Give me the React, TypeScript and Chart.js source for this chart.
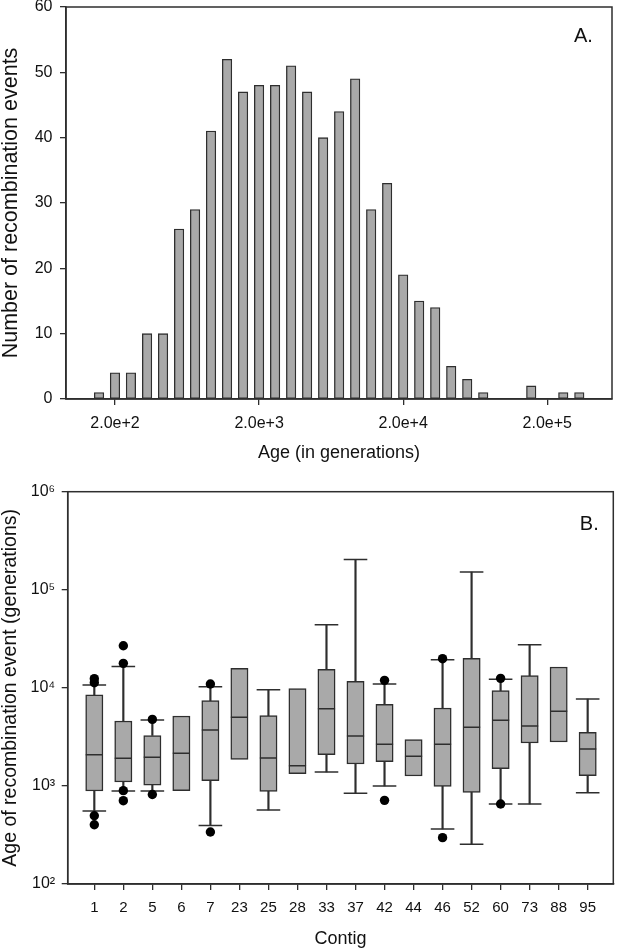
import React, { useEffect, useRef } from 'react';
import { Chart, registerables } from 'chart.js';

Chart.register(...registerables);
Chart.defaults.font.family = "'Liberation Sans', Arial, Helvetica, sans-serif";
Chart.defaults.color = '#111';

// ---------- Panel A data ----------
const binAges = [155, 200, 258, 334, 431, 557, 719, 928, 1199, 1548, 2000, 2583, 3337, 4309, 5566, 7188, 9284, 11990, 15480, 20000, 25830, 33370, 43090, 55660, 71880, 92840, 119900, 154800, 200000, 258300, 333700];
const eventCounts = [1, 4, 4, 10, 10, 26, 29, 41, 52, 47, 48, 48, 51, 47, 40, 44, 49, 29, 33, 19, 15, 14, 5, 3, 1, 0, 0, 2, 0, 1, 1];
const ageTickValues = [200, 2000, 20000, 200000];
const ageTickLabels = ['2.0e+2', '2.0e+3', '2.0e+4', '2.0e+5'];

// ---------- Panel B data ----------
const contigs = ['1', '2', '5', '6', '7', '23', '25', '28', '33', '37', '42', '44', '46', '52', '60', '73', '88', '95'];
const q1Ages = [887, 1096, 1016, 895, 1131, 1866, 881, 1333, 2083, 1673, 1767, 1262, 990, 860, 1499, 2738, 2803, 1272];
const medianAges = [2083, 1911, 1962, 2149, 3716, 5003, 1925, 1609, 6133, 3228, 2654, 2002, 2654, 3956, 4664, 4081, 5760, 2379];
const q3Ages = [8500, 4590, 3270, 5160, 7400, 15800, 5200, 9810, 15440, 11650, 6790, 2960, 6230, 19980, 9360, 13300, 16310, 3520];
const lowerWhisker = [555, 888, 889, null, 396, null, 568, null, 1387, 840, 998, null, 364, 254, 654, 654, null, 854];
const upperWhisker = [10690, 16500, 4700, null, 10280, null, 9580, null, 44060, 204000, 10940, null, 19370, 151700, 12210, 27550, null, 7690];
const outlierAges = [[12400, 11290, 497, 402], [26900, 17770, 895, 707], [4770, 817], [], [10940, 339], [], [], [], [], [], [11930, 713], [], [19830, 297], [], [12500, 654], [], [], []];
const logTickValues = [100, 1000, 10000, 100000, 1000000];
const logTickLabels = ['10²', '10³', '10⁴', '10⁵', '10⁶'];

const LINE = '#2e2e2e';
const FILL = '#a9a9a9';

const framePlugin = {
  id: 'frame',
  afterDraw(chart: any) {
    const { ctx, chartArea } = chart;
    const { left, top, right, bottom } = chartArea;
    ctx.save();
    ctx.strokeStyle = LINE;
    ctx.lineWidth = 1.5;
    ctx.strokeRect(left, top, right - left, bottom - top);
    ctx.restore();
  },
};

function panelLabel(text: string, dx: number, dy: number, size: number) {
  return {
    id: 'panelLabel' + text,
    afterDraw(chart: any) {
      const { ctx, chartArea } = chart;
      ctx.save();
      ctx.font = `${size}px 'Liberation Sans', Arial, sans-serif`;
      ctx.fillStyle = '#111';
      ctx.textBaseline = 'alphabetic';
      ctx.textAlign = 'left';
      ctx.fillText(text, chartArea.right + dx, chartArea.top + dy);
      ctx.restore();
    },
  };
}

function topConfig(): any {
  return {
    type: 'bar',
    data: {
      datasets: [
        {
          data: binAges.map((a, i) => ({ x: a, y: eventCounts[i] })),
          backgroundColor: FILL,
          borderColor: LINE,
          borderWidth: 1.3,
          borderSkipped: false,
          barThickness: 9.5,
        },
      ],
    },
    options: {
      animation: false,
      responsive: false,
      events: [],
      layout: { autoPadding: false, padding: { left: 0, right: 5, top: 7, bottom: 0 } },
      plugins: { legend: { display: false }, tooltip: { enabled: false } },
      scales: {
        x: {
          type: 'logarithmic',
          min: 91.4,
          max: 562800,
          offset: false,
          grid: { display: true, drawOnChartArea: false, offset: false, tickLength: 6, color: LINE, lineWidth: 1.3 },
          border: { display: true, color: LINE, width: 1.5 },
          ticks: {
            autoSkip: false,
            maxRotation: 0,
            padding: 9,
            color: '#111',
            font: { size: 16 },
            callback: (_v: any, i: number) => ageTickLabels[i],
          },
          afterBuildTicks: (s: any) => {
            s.ticks = ageTickValues.map((v) => ({ value: v }));
          },
          afterFit: (s: any) => {
            s.height = 71;
            s.paddingLeft = 0;
            s.paddingRight = 0;
          },
          title: {
            display: true,
            text: 'Age (in generations)',
            color: '#111',
            font: { size: 18, lineHeight: 1.2 },
            padding: { top: 0, bottom: 6 },
          },
        },
        y: {
          type: 'linear',
          min: 0,
          max: 60,
          grid: { display: true, drawOnChartArea: false, tickLength: 6, color: LINE, lineWidth: 1.3 },
          border: { display: true, color: LINE, width: 1.5 },
          ticks: { stepSize: 10, padding: 7.5, color: '#111', font: { size: 16 } },
          afterFit: (s: any) => {
            s.width = 66;
            s.paddingTop = 0;
            s.paddingBottom = 0;
          },
          title: {
            display: true,
            text: 'Number of recombination events',
            color: '#111',
            font: { size: 21.5, lineHeight: 1 },
            padding: { top: 0, bottom: 0 },
          },
        },
      },
    },
    plugins: [framePlugin, panelLabel('A.', -38, 35, 20)],
  };
}

function bottomConfig(): any {
  const idx = contigs.map((_, i) => i);
  const boxes = idx.map((i) => ({ x: i, y: [q1Ages[i], q3Ages[i]] }));
  const medians = idx.map((i) => ({ x: i, y: medianAges[i] }));
  const whiskers: any[] = [];
  const caps: any[] = [];
  idx.forEach((i) => {
    const lo = lowerWhisker[i];
    const hi = upperWhisker[i];
    if (lo != null) {
      whiskers.push({ x: i, y: [lo, q1Ages[i]] });
      caps.push({ x: i, y: lo });
    }
    if (hi != null) {
      whiskers.push({ x: i, y: [q3Ages[i], hi] });
      caps.push({ x: i, y: hi });
    }
  });
  const outliers: any[] = [];
  outlierAges.forEach((arr, i) => arr.forEach((v) => outliers.push({ x: i, y: v })));

  return {
    type: 'bar',
    data: {
      datasets: [
        {
          type: 'scatter',
          data: outliers,
          pointRadius: 4.7,
          pointBackgroundColor: '#000',
          pointBorderColor: '#000',
          pointBorderWidth: 0,
          order: 0,
        },
        {
          type: 'scatter',
          data: medians,
          pointStyle: 'line',
          pointRadius: 8.6,
          pointBorderColor: LINE,
          borderColor: LINE,
          pointBorderWidth: 1.5,
          order: 1,
        },
        {
          type: 'scatter',
          data: caps,
          pointStyle: 'line',
          pointRadius: 11.8,
          pointBorderColor: LINE,
          borderColor: LINE,
          pointBorderWidth: 1.5,
          order: 1,
        },
        {
          type: 'bar',
          data: boxes,
          backgroundColor: FILL,
          borderColor: LINE,
          borderWidth: 1.5,
          borderSkipped: false,
          barThickness: 17.3,
          grouped: false,
          order: 2,
        },
        {
          type: 'bar',
          data: whiskers,
          backgroundColor: LINE,
          borderWidth: 0,
          barThickness: 1.5,
          grouped: false,
          order: 3,
        },
      ],
    },
    options: {
      animation: false,
      responsive: false,
      events: [],
      layout: { autoPadding: false, padding: { left: 0, right: 3.7, top: 21.7, bottom: 0 } },
      plugins: { legend: { display: false }, tooltip: { enabled: false } },
      scales: {
        x: {
          type: 'linear',
          min: -0.917,
          max: 17.883,
          offset: false,
          grid: { display: true, drawOnChartArea: false, offset: false, tickLength: 6, color: LINE, lineWidth: 1.3 },
          border: { display: true, color: LINE, width: 1.5 },
          ticks: {
            autoSkip: false,
            maxRotation: 0,
            padding: 9,
            color: '#111',
            font: { size: 15 },
            callback: (v: any) => contigs[Math.round(Number(v))],
          },
          afterBuildTicks: (s: any) => {
            s.ticks = contigs.map((_, i) => ({ value: i }));
          },
          afterFit: (s: any) => {
            s.height = 66;
            s.paddingLeft = 0;
            s.paddingRight = 0;
          },
          title: {
            display: true,
            text: 'Contig',
            color: '#111',
            font: { size: 18, lineHeight: 1.2 },
            padding: { top: 0, bottom: 0 },
          },
        },
        y: {
          type: 'logarithmic',
          min: 100,
          max: 1000000,
          grid: { display: true, drawOnChartArea: false, tickLength: 6, color: LINE, lineWidth: 1.3 },
          border: { display: true, color: LINE, width: 1.5 },
          ticks: {
            autoSkip: false,
            padding: 6.5,
            color: '#111',
            font: { size: 16 },
            callback: (_v: any, i: number) => logTickLabels[i],
          },
          afterBuildTicks: (s: any) => {
            s.ticks = logTickValues.map((v) => ({ value: v }));
          },
          afterFit: (s: any) => {
            s.width = 67.7;
            s.paddingTop = 0;
            s.paddingBottom = 0;
          },
          title: {
            display: true,
            text: 'Age of recombination event (generations)',
            color: '#111',
            font: { size: 19.5, lineHeight: 1 },
            padding: { top: 1, bottom: 0 },
          },
        },
      },
    },
    plugins: [framePlugin, panelLabel('B.', -33.5, 38, 20)],
  };
}

export default function App() {
  const topRef = useRef<HTMLCanvasElement>(null);
  const botRef = useRef<HTMLCanvasElement>(null);
  useEffect(() => {
    const c1 = new Chart(topRef.current as HTMLCanvasElement, topConfig());
    const c2 = new Chart(botRef.current as HTMLCanvasElement, bottomConfig());
    return () => {
      c1.destroy();
      c2.destroy();
    };
  }, []);
  return (
    <div style={{ position: 'absolute', left: 0, top: 0, width: 617, height: 950, background: '#fff' }}>
      <canvas ref={topRef} width={617} height={470} style={{ position: 'absolute', left: 0, top: 0, width: 617, height: 470 }} />
      <canvas ref={botRef} width={617} height={480} style={{ position: 'absolute', left: 0, top: 470, width: 617, height: 480 }} />
    </div>
  );
}
